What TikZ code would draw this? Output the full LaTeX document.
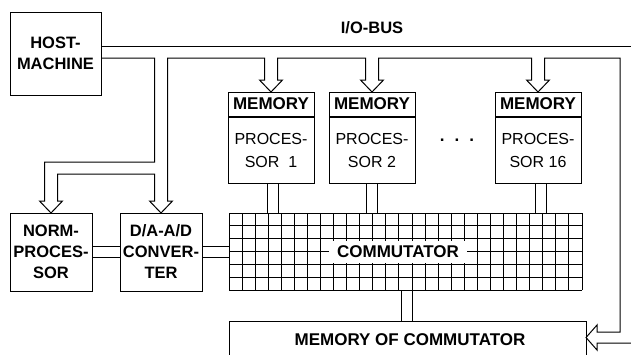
\documentclass[tikz,border=0pt]{standalone}
\usepackage{fontspec}
\setmainfont{Liberation Sans}
\usetikzlibrary{calc, backgrounds}

% hollow arrow heads, drawn as part of a bus outline
\newcommand{\headdown}{-- ++(-5,0) -- ++(11.5,12) -- ++(11.5,-12) -- ++(-5,0)}
\newcommand{\headleft}{-- ++(0,-7) -- ++(-11,12.5) -- ++(11,12.5) -- ++(0,-7)}

\begin{document}
\begin{tikzpicture}[
  x=1pt, y=-1pt,
  line width=1pt,
  every node/.style={outer sep=0pt, inner sep=1pt},
  box/.style={rectangle, draw, align=center},
  hostbox/.style={box, minimum width=91pt, minimum height=83pt, font=\fontsize{16.5}{21}\selectfont\bfseries},
  membox/.style={box, minimum width=86pt, minimum height=24pt, font=\fontsize{17}{20}\selectfont\bfseries},
  procbox/.style={box, minimum width=86pt, minimum height=65.5pt, font=\fontsize{16}{23}\selectfont},
  unitbox/.style={box, minimum width=82pt, minimum height=78pt, font=\fontsize{16.5}{21}\selectfont\bfseries},
  gridbox/.style={rectangle, minimum width=353pt, minimum height=77pt},
  commlabel/.style={fill=white, inner xsep=8pt, minimum height=22pt, font=\fontsize{17}{20}\selectfont\bfseries},
  plainlabel/.style={font=\fontsize{17}{20}\selectfont\bfseries},
  bus/.style={line width=1pt},
  link/.style={double, double distance=10pt, line width=1pt},
]
\useasboundingbox (0,0) rectangle (631,354);

% Host and bus label
\node[hostbox] (host) at (55.5,53.5) {HOST-\\MACHINE};
\node[plainlabel, font=\fontsize{16.5}{20}\selectfont\bfseries] (iobus) at (372,27.5) {I/O-BUS};

% Memory / processor pairs
\node[membox] (mem1) at (271,104) {MEMORY};
\node[procbox] (proc1) at (271,150.25) {PROCES-\\SOR\ \ 1};
\node[membox] (mem2) at (372,104) {MEMORY};
\node[procbox] (proc2) at (372,150.25) {PROCES-\\SOR 2};
\node[membox] (mem16) at (538,104) {MEMORY};
\node[procbox] (proc16) at (538,150.25) {PROCES-\\SOR 16};
\node[plainlabel] (dots) at (457,140) {.\hspace{10pt}.\hspace{10pt}.};

% Norm processor and converter
\node[unitbox] (norm) at (51,252) {NORM-\\PROCES-\\SOR};
\node[unitbox] (conv) at (161,252) {D/A-A/D\\CONVER-\\TER};

% Commutator grid
\node[gridbox] (comm) at (405.5,251.5) {};
\foreach \i in {0,...,27}
  \draw ($(comm.north west)!\i/27!(comm.north east)$) -- ($(comm.south west)!\i/27!(comm.south east)$);
\foreach \j in {0,...,6}
  \draw ($(comm.north west)!\j/6!(comm.south west)$) -- ($(comm.north east)!\j/6!(comm.south east)$);
\node[commlabel] (commtext) at (398,251.5) {COMMUTATOR};

% Memory of commutator
\node[box, minimum width=357pt, minimum height=60pt, anchor=north west] (memc) at (229,321) {};
\node[plainlabel] (memctext) at (410,339.5) {MEMORY OF COMMUTATOR};

% Double-line links
\begin{scope}[on background layer]
  \draw[link] ($(proc1.south)+(1.5,0)$) -- ($(proc1.south |- comm.north)+(1.5,0)$);
  \draw[link] (proc2.south) -- (proc2.south |- comm.north);
  \draw[link] ($(proc16.south)+(3,0)$) -- ($(proc16.south |- comm.north)+(3,0)$);
  \draw[link] ($(comm.south)+(1,0)$) -- ($(comm.south |- memc.north)+(1,0)$);
  \draw[link] (norm.east) -- (conv.west);
  \draw[link] (conv.east) -- (conv.east -| comm.west);
\end{scope}

% I/O bus outline
\coordinate (tapN) at ($(conv.north)+(-6.5,-51)$);
\coordinate (tapC) at ($(conv.north)+(-6.5,-39)$);
\draw[bus] ($(host.north east)+(0,34)$) -- (631,46);
\draw[bus] ($(host.north east)+(0,46)$) -| (tapN) -| ($(norm.north)+(-6.5,-12)$) \headdown
  |- (tapC) -- ($(conv.north)+(-6.5,-12)$) \headdown
  |- ($(mem1.north)+(-6.5,-34)$) -- ++(0,22) \headdown
  |- ($(mem2.north)+(-6.5,-34)$) -- ++(0,22) \headdown
  |- ($(mem16.north)+(-6.5,-34)$) -- ++(0,22) \headdown
  |- (620,58) -- (620,332) -- ($(memc.north east)+(11,11)$) \headleft -- (631,343);

\end{tikzpicture}
\end{document}
